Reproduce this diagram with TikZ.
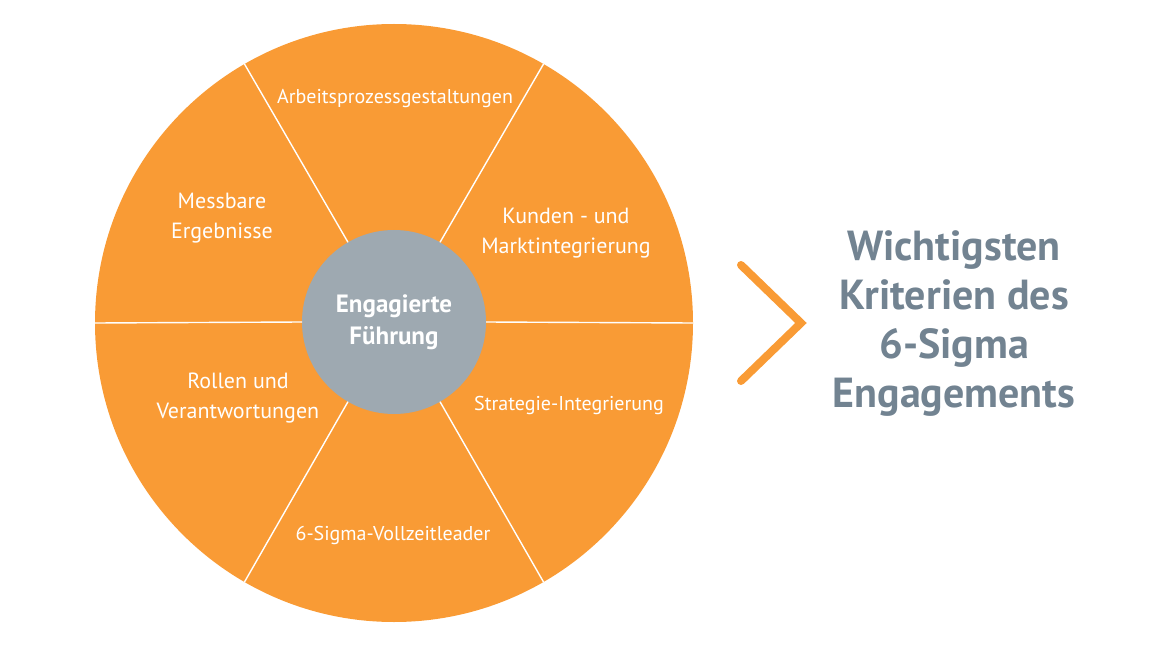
\documentclass[tikz,border=0pt]{standalone}
\usepackage{fontspec}
\setmainfont{PT Sans}
\usetikzlibrary{positioning}
\definecolor{wheelorange}{HTML}{F99B35}
\definecolor{hubgray}{HTML}{9EA9B1}
\definecolor{titlegray}{HTML}{728391}

\tikzset{
    segtext/.style={text=white, align=center, inner sep=0pt, font=\fontsize{22}{30}\selectfont},
    smalltext/.style={segtext, font=\fontsize{20}{24}\selectfont},
    divider/.style={draw=white, line width=1.4pt}
}

\begin{document}
\begin{tikzpicture}[x=1pt, y=-1pt]
    \useasboundingbox (0,0) rectangle (1170,647);

    % Outer wheel and central hub
    \node[circle, fill=wheelorange, minimum size=598pt, inner sep=0pt, outer sep=0pt] (wheel) at (394,323) {};
    \node[circle, fill=hubgray, minimum size=184pt, inner sep=0pt, outer sep=0pt, text=white, align=center,
          font=\bfseries\fontsize{25}{32}\selectfont] (hub) at (394,322) {Engagierte\\Führung};

    % Radial dividers between the segments
    \foreach \a in {0,60,...,300}
        \draw[divider] (hub.\a) -- (wheel.\a);

    % Segment labels
    \node[smalltext] (arbeit) at (395,99) {Arbeitsprozessgestaltungen};
    \node[segtext] (messbar) at (222,218) {Messbare\\Ergebnisse};
    \node[segtext] (kunden) at (566,233) {Kunden - und\\Marktintegrierung};
    \node[segtext] (rollen) at (238,398) {Rollen und\\Verantwortungen};
    \node[smalltext] (strategie) at (569,405) {Strategie-Integrierung};
    \node[smalltext] (vollzeit) at (393,535) {6-Sigma-Vollzeitleader};

    % Chevron pointing to the summary
    \coordinate (chevtop) at (741,265);
    \coordinate (chevtip) at (801,323);
    \coordinate (chevbot) at (741,381);
    \draw[draw=wheelorange, line width=8pt, line cap=round] (chevtop) -- (chevtip) -- (chevbot);

    % Summary title
    \node[text=titlegray, align=center, inner sep=0pt, font=\bfseries\fontsize{42}{49}\selectfont] (summary) at (954,324)
        {Wichtigsten\\Kriterien des\\6-Sigma\\Engagements};
\end{tikzpicture}
\end{document}
